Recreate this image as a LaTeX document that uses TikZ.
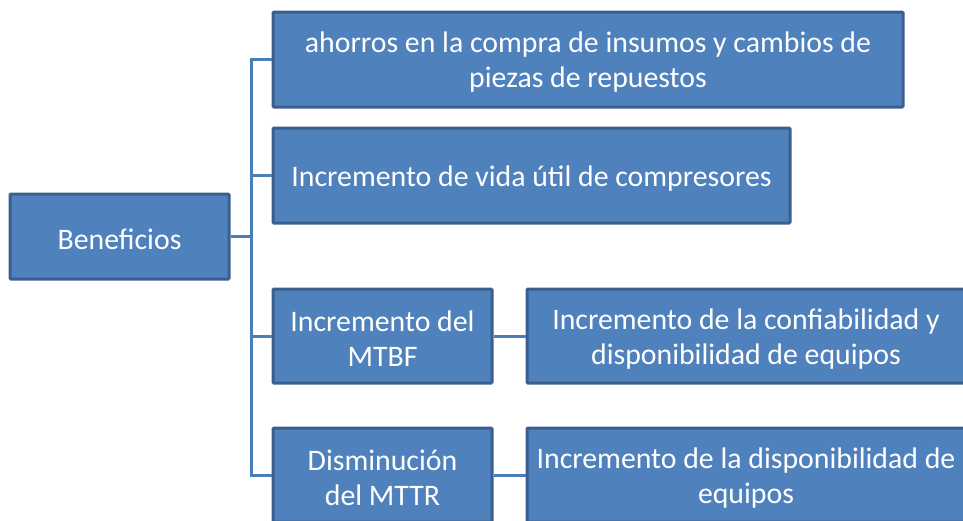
\documentclass[tikz,border=0pt]{standalone}
\usepackage{fontspec}
\setmainfont{Carlito}
\definecolor{boxfill}{HTML}{4F81BD}
\definecolor{boxedge}{HTML}{3A5F8E}
\definecolor{linkc}{HTML}{4A7EBB}
\begin{document}
\begin{tikzpicture}[x=1pt,y=-1pt,
  box/.style={draw=boxedge,line width=3pt,fill=boxfill,inner sep=0pt,rounded corners=1pt},
  txt/.style={label={[text=white,align=center,inner sep=0pt,yshift=-3pt,
    font=\fontsize{29.8}{35}\selectfont]center:{#1}}},
  link/.style={draw=linkc,line width=3pt}]
\useasboundingbox (0,0) rectangle (963,520);
\clip (0,0) rectangle (963,520);
\node[box,minimum width=219pt,minimum height=85pt,txt={Beneficios}] (ben) at (119.5,236.5) {};
\node[box,minimum width=630pt,minimum height=95pt,txt={ahorros en la compra de insumos y cambios de\\piezas de repuestos}] (b1) at (588,59.5) {};
\node[box,minimum width=517pt,minimum height=95pt,txt={Incremento de vida útil de compresores}] (b2) at (531.5,175.5) {};
\node[box,minimum width=219pt,minimum height=94pt,txt={Incremento del\\MTBF}] (b3) at (382.5,336) {};
\node[box,minimum width=219pt,minimum height=94pt,txt={Disminución\\del MTTR}] (b4) at (382.5,475) {};
\node[box,minimum width=438pt,minimum height=94pt,txt={Incremento de la confiabilidad y\\disponibilidad de equipos}] (c3) at (746,336) {};
\node[box,minimum width=438pt,minimum height=94pt,txt={Incremento de la disponibilidad de\\equipos}] (c4) at (746,475) {};
\coordinate (j) at (251,236.5);
\draw[link] (ben.east) -- (j);
\draw[link] (j) |- (b1.west);
\draw[link] (j) |- (b2.west);
\draw[link] (j) |- (b3.west);
\draw[link] (j) |- (b4.west);
\draw[link] (b3.east) -- (c3.west);
\draw[link] (b4.east) -- (c4.west);
\end{tikzpicture}
\end{document}
